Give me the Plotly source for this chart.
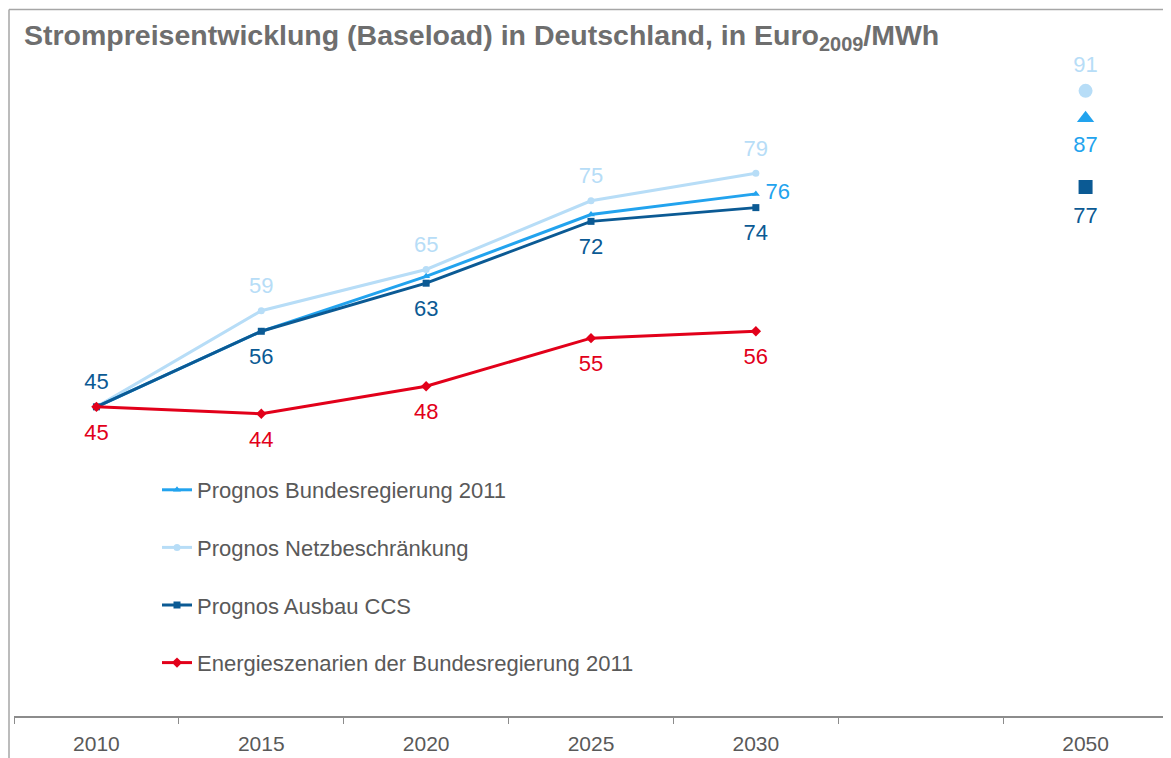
import plotly.graph_objects as go

years = ["2010", "2015", "2020", "2025", "2030", "", "2050"]
x_main = [0, 1, 2, 3, 4]
x_2050 = 6

bund = [45, 56, 64, 73, 76]
netz = [45, 59, 65, 75, 79]
ccs = [45, 56, 63, 72, 74]
energ = [45, 44, 48, 55, 56]

bund_2050 = 87
netz_2050 = 91
ccs_2050 = 77

C_BUND = "#22A3EE"
C_NETZ = "#B7DDF7"
C_CCS = "#0B5A94"
C_RED = "#E2001A"

# page has an 8px body margin: figure occupies page x 8..1171, y 8..758
OFF = 8
W, H = 1171 - OFF, 758 - OFF
ML, MR, MT, MB = 14 - OFF, 3, 29 - OFF, 42
PW = W - ML - MR
PH = H - MT - MB

FONT = "Liberation Sans, Arial, sans-serif"
LBL_SIZE = 22

fig = go.Figure()


def add_line(x, y, name, color, symbol, msize, rank, group):
    fig.add_trace(go.Scatter(
        x=x, y=y, mode="lines+markers", name=name,
        line=dict(color=color, width=3), marker=dict(symbol=symbol, size=msize, color=color),
        legendgroup=group, legendrank=rank, cliponaxis=False))


def add_labels(x, y, texts, pos, color, pad, group):
    # invisible spacer markers set the distance between point and its label
    fig.add_trace(go.Scatter(
        x=x, y=y, mode="markers+text", showlegend=False, hoverinfo="skip",
        marker=dict(size=pad, color="rgba(0,0,0,0)"),
        text=texts, textposition=pos,
        textfont=dict(color=color, family=FONT, size=LBL_SIZE),
        legendgroup=group, cliponaxis=False))


add_line(x_main, netz, "Prognos Netzbeschränkung", C_NETZ, "circle", 7, 2, "netz")
add_line(x_main, bund, "Prognos Bundesregierung 2011", C_BUND, "triangle-up", 7, 1, "bund")
add_line(x_main, ccs, "Prognos Ausbau CCS", C_CCS, "square", 7, 3, "ccs")
add_line(x_main, energ, "Energieszenarien der Bundesregierung 2011", C_RED, "diamond", 8, 4, "energ")

# value labels
add_labels(x_main[1:], netz[1:], [str(v) for v in netz[1:]], "top center", C_NETZ, 18, "netz")
add_labels(x_main[-1:], bund[-1:], [str(bund[-1])], "middle right", C_BUND, 14, "bund")
add_labels(x_main[:1], ccs[:1], [str(ccs[0])], "top center", C_CCS, 18, "ccs")
add_labels(x_main[1:], ccs[1:], [str(v) for v in ccs[1:]], "bottom center", C_CCS, 24, "ccs")
add_labels(x_main, energ, [str(v) for v in energ], "bottom center", C_RED, 25, "energ")

# 2050 points
fig.add_trace(go.Scatter(
    x=[x_2050], y=[netz_2050], mode="markers", showlegend=False,
    marker=dict(symbol="circle", size=14, color=C_NETZ), legendgroup="netz", cliponaxis=False))
fig.add_trace(go.Scatter(
    x=[x_2050], y=[bund_2050], mode="markers", showlegend=False,
    marker=dict(symbol="triangle-up", size=15, color=C_BUND), legendgroup="bund", cliponaxis=False))
fig.add_trace(go.Scatter(
    x=[x_2050], y=[ccs_2050], mode="markers", showlegend=False,
    marker=dict(symbol="square", size=14, color=C_CCS), legendgroup="ccs", cliponaxis=False))
add_labels([x_2050], [netz_2050], [str(netz_2050)], "top center", C_NETZ, 19, "netz")
add_labels([x_2050], [bund_2050], [str(bund_2050)], "bottom center", C_BUND, 26, "bund")
add_labels([x_2050], [ccs_2050], [str(ccs_2050)], "bottom center", C_CCS, 29, "ccs")

# frame lines (top and left)
fx = (1 - ML) / PW
fy = (H - MB - 1.5) / PH
fig.add_shape(type="line", xref="paper", yref="paper", x0=fx, x1=1.01, y0=fy, y1=fy,
              line=dict(color="#A6A6A6", width=1.5))
fig.add_shape(type="line", xref="paper", yref="paper", x0=fx, x1=fx, y0=-0.1, y1=fy,
              line=dict(color="#A6A6A6", width=1.5))

fig.update_layout(
    width=W, height=H,
    margin=dict(l=ML, r=MR, t=MT, b=MB, autoexpand=False),
    plot_bgcolor="white", paper_bgcolor="white",
    font=dict(family=FONT, color="#595959"),
    title=dict(
        text="<b>Strompreisentwicklung (Baseload) in Deutschland, in Euro<sub>2009</sub>/MWh</b>",
        x=(24 - OFF) / W, xanchor="left", xref="container",
        y=1 - (35 - OFF) / H, yanchor="middle", yref="container",
        font=dict(size=28.5, color="#6E6E6E", family=FONT)),
    xaxis=dict(
        range=[-0.5, 6.5], tickmode="array", tickvals=list(range(7)), ticktext=years,
        ticks="outside", ticklen=8, tickcolor="rgba(0,0,0,0)",
        showgrid=False, zeroline=False, showline=True, linecolor="#8C8C8C", linewidth=1.5,
        tickfont=dict(size=21, color="#595959"),
        minor=dict(tickmode="array", tickvals=[i - 0.5 for i in range(8)], ticks="outside",
                   ticklen=6, tickcolor="#8C8C8C", tickwidth=1.2, showgrid=False)),
    yaxis=dict(range=[0, 100], visible=False, showgrid=False, zeroline=False),
    legend=dict(
        x=(157 - 14) / PW, xanchor="left", y=(716 - 469) / PH, yanchor="top",
        bgcolor="rgba(0,0,0,0)", font=dict(size=22, color="#595959"),
        tracegroupgap=26, traceorder="grouped", itemwidth=30),
    showlegend=True,
)

fig.write_html("out.html")
